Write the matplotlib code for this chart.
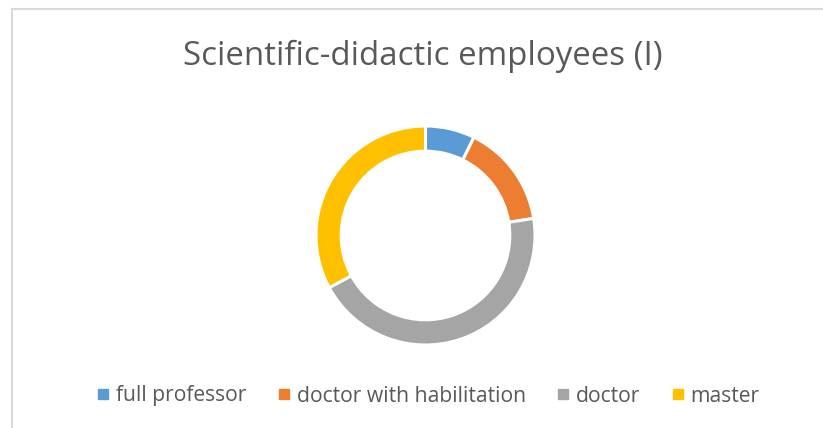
import matplotlib
matplotlib.use("Agg")
import matplotlib.pyplot as plt
from matplotlib.lines import Line2D

categories = ["full professor", "doctor with habilitation", "doctor", "master"]
values = [7.3, 15.2, 44.6, 32.9]
colors = ["#5B9BD5", "#ED7D31", "#A5A5A5", "#FFC000"]
title = "Scientific-didactic employees (I)"

W, H = 823, 428
fig = plt.figure(figsize=(W / 100, H / 100), dpi=100)
fig.patch.set_facecolor("white")

# frame lines (top and left)
fig.add_artist(Line2D([12 / W, 12 / W], [0, 1 - 9 / H], transform=fig.transFigure,
                      color="#D9D9D9", lw=1.5))
fig.add_artist(Line2D([12 / W, 1], [1 - 9 / H, 1 - 9 / H], transform=fig.transFigure,
                      color="#D9D9D9", lw=1.5))

cx, cy, r = 425.5, 235.5, 109.5
ax = fig.add_axes([(cx - r) / W, (H - cy - r) / H, 2 * r / W, 2 * r / H])
ax.pie(values, colors=colors, startangle=90, counterclock=False, radius=1.0,
       wedgeprops=dict(width=0.23, edgecolor="white", linewidth=2.2))
ax.set_xlim(-1, 1)
ax.set_ylim(-1, 1)
ax.set_aspect("auto")
ax.axis("off")

fig.text(423 / W, 1 - 56 / H, title, ha="center", va="center",
         fontsize=23.8, color="#595959", family="Open Sans")

handles = [Line2D([], [], marker="s", linestyle="none", markersize=6.5,
                  markerfacecolor=c, markeredgecolor=c) for c in colors]
leg = fig.legend(handles, categories, loc="center", bbox_to_anchor=(428.5 / W, 1 - 396 / H),
                 ncol=4, frameon=False, handlelength=0.55, handletextpad=0.35,
                 columnspacing=1.48, prop=dict(family="Open Sans", size=15.2))
for t in leg.get_texts():
    t.set_color("#595959")

fig.savefig("out.png", dpi=100, facecolor="white")
